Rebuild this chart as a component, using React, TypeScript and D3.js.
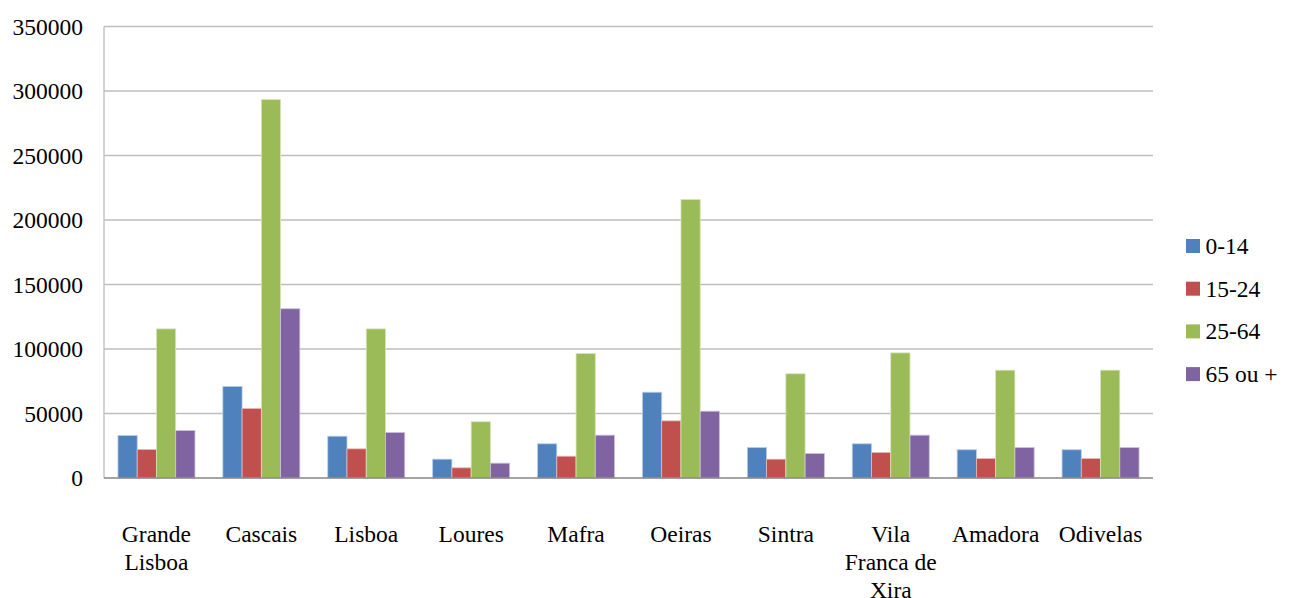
import React from "react";
import * as d3 from "d3";

const categories = ["Grande Lisboa", "Cascais", "Lisboa", "Loures", "Mafra", "Oeiras", "Sintra", "Vila Franca de Xira", "Amadora", "Odivelas"];
const categoryLines = [["Grande", "Lisboa"], ["Cascais"], ["Lisboa"], ["Loures"], ["Mafra"], ["Oeiras"], ["Sintra"], ["Vila", "Franca de", "Xira"], ["Amadora"], ["Odivelas"]];
const seriesNames = ["0-14", "15-24", "25-64", "65 ou +"];
const seriesColors = ["#4F81BD", "#C0504D", "#9BBB59", "#8064A2"];
const seriesStroke = ["#B9CDE5", "#E6B9B8", "#D7E4BD", "#CCC1DA"];
const age0_14 = [33000, 71000, 32400, 14600, 26500, 66500, 23600, 26500, 21900, 21900];
const age15_24 = [22100, 53900, 22600, 7900, 16900, 44300, 14600, 19800, 15100, 15100];
const age25_64 = [115600, 293300, 115600, 43600, 96500, 215900, 80800, 97000, 83600, 83600];
const age65plus = [36800, 131200, 35300, 11500, 33200, 51800, 19000, 33200, 23600, 23600];
const yTicks = [0, 50000, 100000, 150000, 200000, 250000, 300000, 350000];

const series = [age0_14, age15_24, age25_64, age65plus];

// Text is drawn at 30px and scaled down so the serif face is used.
const BASE = 30;
const FS = 23.5;
const K = FS / BASE;

function SText({ x, y, anchor = "start", lines, lh = 28, dy = "0" }: { x: number; y: number; anchor?: string; lines: string[]; lh?: number; dy?: string }) {
  return (
    <g transform={`translate(${x},${y}) scale(${K})`}>
      <text textAnchor={anchor} dy={dy} style={{ fontFamily: "Liberation Serif", fontSize: BASE }} fill="#000">
        {lines.map((l, i) => (
          <tspan key={i} x={0} y={(i * lh) / K}>{l}</tspan>
        ))}
      </text>
    </g>
  );
}

export default function App() {
  const W = 1292, H = 598;
  const left = 104, right = 1153, top = 26.5, bottom = 478;

  const x0 = d3.scaleBand<string>().domain(categories).range([left, right]).paddingInner(0.266).paddingOuter(0.133);
  const x1 = d3.scaleBand<string>().domain(seriesNames).range([0, x0.bandwidth()]);
  const y = d3.scaleLinear().domain([0, 350000]).range([bottom, top]);

  return (
    <svg width={W} height={H} style={{ position: "absolute", left: 0, top: 0, background: "#fff" }}>
      {yTicks.filter(t => t > 0).map(t => (
        <line key={t} x1={left} x2={right} y1={y(t)} y2={y(t)} stroke="#BEBEBE" strokeWidth={1.3} />
      ))}
      <line x1={left} x2={left} y1={top} y2={bottom} stroke="#BEBEBE" strokeWidth={1.3} />
      {categories.map((c, ci) => (
        <g key={c} transform={`translate(${x0(c)},0)`}>
          {series.map((s, si) => (
            <rect key={si}
              x={x1(seriesNames[si])!}
              y={y(s[ci])}
              width={x1.bandwidth()}
              height={bottom - y(s[ci])}
              fill={seriesColors[si]}
              stroke={seriesStroke[si]}
              strokeWidth={0.8}
            />
          ))}
        </g>
      ))}
      <line x1={left} x2={right} y1={bottom} y2={bottom} stroke="#868686" strokeWidth={1.3} />
      {yTicks.map(t => (
        <SText key={t} x={83} y={y(t) + 8} anchor="end" lines={[String(t)]} />
      ))}
      {categories.map((c, ci) => (
        <SText key={c} x={x0(c)! + x0.bandwidth() / 2} y={541.5} anchor="middle" lines={categoryLines[ci]} />
      ))}
      {seriesNames.map((n, i) => (
        <g key={n}>
          <rect x={1186} y={246 + i * 42.7 - 7} width={14} height={14} fill={seriesColors[i]} />
          <SText x={1205.5} y={246 + i * 42.7 + 8} lines={[n]} />
        </g>
      ))}
    </svg>
  );
}
